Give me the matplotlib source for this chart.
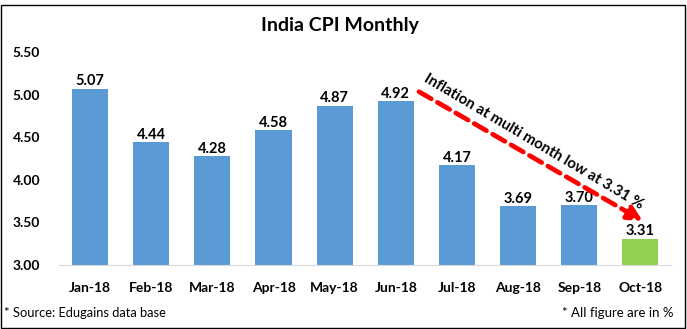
import matplotlib
matplotlib.use("Agg")
import numpy as np
import matplotlib.pyplot as plt
from matplotlib.patches import Rectangle

plt.rcParams['font.family'] = ['Lato', 'DejaVu Sans']

months = ["Jan-18", "Feb-18", "Mar-18", "Apr-18", "May-18",
          "Jun-18", "Jul-18", "Aug-18", "Sep-18", "Oct-18"]
cpi = [5.07, 4.44, 4.28, 4.58, 4.87, 4.92, 4.17, 3.69, 3.70, 3.31]
y_ticks = [3.00, 3.50, 4.00, 4.50, 5.00, 5.50]

blue = '#5B9BD5'
green = '#92D050'
colors = [blue] * (len(cpi) - 1) + [green]

fig = plt.figure(figsize=(6.87, 3.29), dpi=100)
ax = fig.add_axes([59.5 / 687, 64 / 329, 611.5 / 687, 213 / 329])

x = np.arange(len(months))
bars = ax.bar(x, cpi, width=0.59, color=colors, zorder=2)

for xi, v in zip(x, cpi):
    ax.text(xi, v + 0.005, f"{v:.2f}", ha='center', va='bottom',
            fontsize=10.5, fontweight='bold', color='black')

ax.set_xlim(-0.5, len(months) - 0.5)
ax.set_ylim(3.0, 5.5)
ax.set_yticks(y_ticks)
ax.set_yticklabels([f"{t:.2f}" for t in y_ticks], fontsize=10, fontweight='bold')
ax.set_xticks(x)
ax.set_xticklabels(months, fontsize=10, fontweight='bold')
ax.tick_params(axis='y', length=0, pad=14)
ax.tick_params(axis='x', length=0, pad=12)
for s in ['top', 'right', 'left']:
    ax.spines[s].set_visible(False)
ax.spines['bottom'].set_color('#D9D9D9')
ax.spines['bottom'].set_zorder(3)

# trend arrow from June towards October
ax.annotate("", xy=(9.08, 3.50), xytext=(5.34, 5.05),
            arrowprops=dict(arrowstyle='-|>', color='#FF0000', lw=3.4,
                            linestyle=(0, (3, 1.5)), mutation_scale=22),
            annotation_clip=False, zorder=4)
ax.text(7.25, 4.45, "Inflation at multi month low at 3.31 %", rotation=-30.6,
        rotation_mode='anchor', ha='center', va='center', fontsize=10.8,
        fontweight='bold', color='black', clip_on=False)

fig.text(340 / 687, 1 - 25 / 329, "India CPI Monthly", ha='center', va='center',
         fontsize=14, fontweight='bold')
fig.text(4 / 687, 1 - 313 / 329, "* Source: Edugains data base", ha='left',
         va='center', fontsize=9.3)
fig.text(673 / 687, 1 - 313 / 329, "* All figure are in %", ha='right',
         va='center', fontsize=9.5)

fig.patches.append(Rectangle((0.5 / 687, 1 / 329), 684 / 687, 323 / 329,
                             transform=fig.transFigure, fill=False,
                             edgecolor='black', lw=1))

fig.savefig("out.png", dpi=100)
